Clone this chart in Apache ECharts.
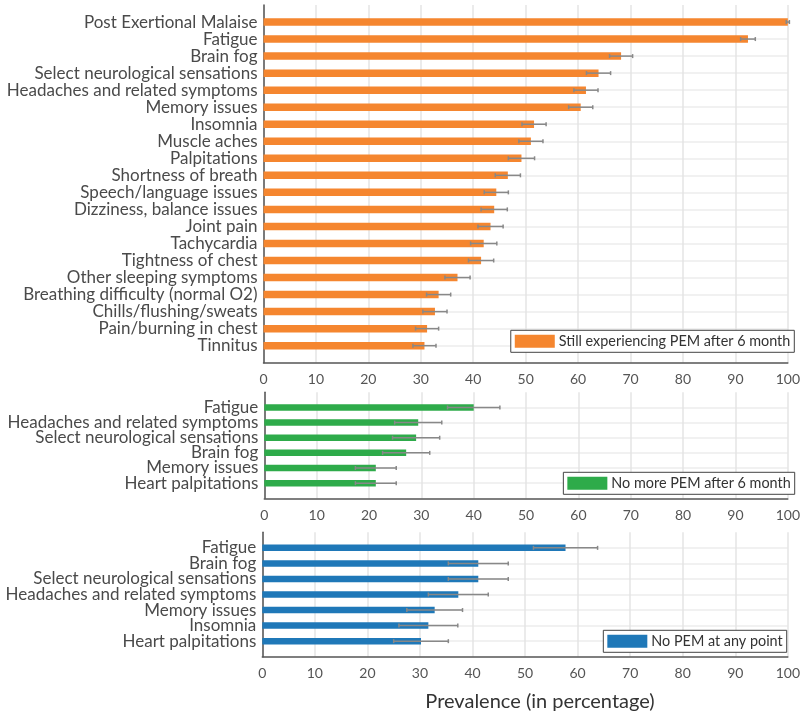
<!DOCTYPE html>
<html><head><meta charset="utf-8">
<script src="https://cdn.jsdelivr.net/npm/echarts@6/dist/echarts.min.js"></script>
<style>html,body{margin:0;padding:0;background:#fff}#c{width:803px;height:713px}</style>
</head><body><div id="c"></div>
<script>
// Panel 1: Still experiencing PEM after 6 month
const cats1 = ['Post Exertional Malaise','Fatigue','Brain fog','Select neurological sensations','Headaches and related symptoms','Memory issues','Insomnia','Muscle aches','Palpitations','Shortness of breath','Speech/language issues','Dizziness, balance issues','Joint pain','Tachycardia','Tightness of chest','Other sleeping symptoms','Breathing difficulty (normal O2)','Chills/flushing/sweats','Pain/burning in chest','Tinnitus'];
const vals1 = [100, 92.4, 68.2, 63.9, 61.5, 60.5, 51.6, 51.0, 49.2, 46.6, 44.4, 44.0, 43.3, 42.0, 41.5, 37.0, 33.4, 32.7, 31.2, 30.7];
const errs1 = [0.3, 1.4, 2.2, 2.3, 2.3, 2.3, 2.3, 2.3, 2.5, 2.4, 2.3, 2.5, 2.4, 2.5, 2.4, 2.4, 2.3, 2.3, 2.2, 2.2];
// Panel 2: No more PEM after 6 month
const cats2 = ['Fatigue','Headaches and related symptoms','Select neurological sensations','Brain fog','Memory issues','Heart palpitations'];
const vals2 = [40.0, 29.4, 29.0, 27.1, 21.3, 21.3];
const errs2 = [5.0, 4.5, 4.5, 4.5, 3.9, 3.9];
// Panel 3: No PEM at any point
const cats3 = ['Fatigue','Brain fog','Select neurological sensations','Headaches and related symptoms','Memory issues','Insomnia','Heart palpitations'];
const vals3 = [57.7, 41.1, 41.1, 37.3, 32.8, 31.6, 30.2];
const errs3 = [6.1, 5.7, 5.7, 5.7, 5.3, 5.6, 5.2];
const names = ['Still experiencing PEM after 6 month','No more PEM after 6 month','No PEM at any point'];
const colors = ['#f5862f','#2eab4a','#1f78b8'];
const xTicks = [0,10,20,30,40,50,60,70,80,90,100];

const panels = [
  {cats: cats1, vals: vals1, errs: errs1, grid: {left: 263.5, right: 8.7, top: 5, height: 357.7}, bw: 7.5, legend: {right: 8.7, top: 330.3}},
  {cats: cats2, vals: vals2, errs: errs2, grid: {left: 264.3, right: 8.5, top: 392.3, height: 106}, bw: 6.5, legend: {right: 8.3, top: 472.3}},
  {cats: cats3, vals: vals3, errs: errs3, grid: {left: 262.3, right: 11.3, top: 532.3, height: 124.4}, bw: 6.5, legend: {right: 16.3, top: 630.3}}
];

const FONT = 'Lato';
const option = {
  animation: false,
  grid: [], xAxis: [], yAxis: [], series: [], legend: [],
  graphic: [{type: 'text', x: 540, y: 702, style: {text: 'Prevalence (in percentage)', font: '20px ' + FONT, fill: '#333', textAlign: 'center', textVerticalAlign: 'middle'}}]
};

panels.forEach((p, k) => {
  option.grid.push(Object.assign({containLabel: false}, p.grid));
  option.xAxis.push({
    type: 'value', gridIndex: k, min: 0, max: 100, interval: 10,
    axisLine: {show: true, onZero: false, lineStyle: {color: '#555', width: 1.5}},
    axisTick: {show: false},
    axisLabel: {color: '#555', fontSize: 14, fontFamily: FONT, margin: 10, formatter: v => xTicks.includes(v) ? String(v) : ''},
    splitLine: {show: true, lineStyle: {color: '#e4e4e4', width: 1.5}}
  });
  const n = p.cats.length;
  const splitColors = [];
  for (let i = 0; i <= n + 1; i++) splitColors.push(i === 0 || i === n + 1 ? 'rgba(0,0,0,0)' : '#ececec');
  option.yAxis.push({
    type: 'value', gridIndex: k, min: -1, max: n, interval: 1, inverse: true,
    axisLine: {show: true, onZero: false, lineStyle: {color: '#555', width: 1.5}},
    axisTick: {show: false},
    axisLabel: {color: '#4a4a4a', fontSize: 17, fontFamily: FONT, margin: 6,
      formatter: v => (p.cats[v] !== undefined ? p.cats[v] : '')},
    splitLine: {show: true, lineStyle: {color: splitColors, width: 1.5}}
  });
  const barData = p.vals.map((v, i) => [v, i]);
  const errData = p.vals.map((v, i) => [v - p.errs[i], v + p.errs[i], i]);
  option.series.push({
    type: 'custom', name: names[k], xAxisIndex: k, yAxisIndex: k,
    itemStyle: {color: colors[k]},
    encode: {x: 0, y: 1},
    data: barData,
    renderItem: (params, api) => {
      const v = api.value(0), i = api.value(1);
      const a = api.coord([0, i]), b = api.coord([v, i]);
      return {type: 'rect', shape: {x: a[0], y: a[1] - p.bw / 2, width: b[0] - a[0], height: p.bw}, style: {fill: colors[k]}};
    }
  });
  option.series.push({
    type: 'custom', name: 'err' + k, xAxisIndex: k, yAxisIndex: k, z: 5,
    encode: {x: [0, 1], y: 2},
    data: errData,
    renderItem: (params, api) => {
      const lo = api.coord([api.value(0), api.value(2)]);
      const hi = api.coord([api.value(1), api.value(2)]);
      const y = lo[1], c = 2;
      const st = {stroke: '#888', lineWidth: 1.5};
      return {type: 'group', children: [
        {type: 'line', shape: {x1: lo[0], y1: y, x2: hi[0], y2: y}, style: st},
        {type: 'line', shape: {x1: lo[0], y1: y - c, x2: lo[0], y2: y + c}, style: st},
        {type: 'line', shape: {x1: hi[0], y1: y - c, x2: hi[0], y2: y + c}, style: st}
      ]};
    }
  });
  option.legend.push(Object.assign({
    data: [{name: names[k], icon: 'rect'}],
    orient: 'horizontal', itemWidth: 40, itemHeight: 13, itemGap: 4,
    padding: [4, 4, 4, 4], borderColor: '#444', borderWidth: 1, borderRadius: 0,
    backgroundColor: '#fff',
    textStyle: {color: '#333', fontSize: 14.4, fontFamily: FONT, padding: [0, 0, 0, -1]}
  }, p.legend));
});

const chart = echarts.init(document.getElementById('c'), null, {renderer: 'canvas'});
chart.setOption(option);
</script>
</body></html>
